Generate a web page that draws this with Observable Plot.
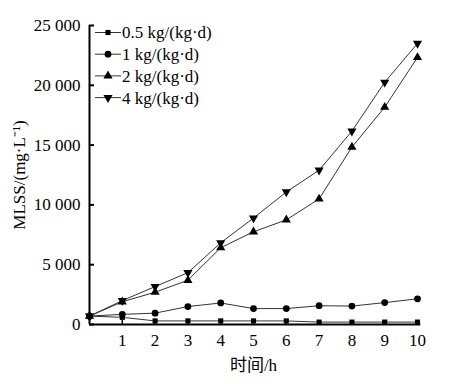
<!DOCTYPE html>
<html>
<head>
<meta charset="utf-8">
<script src="https://cdn.jsdelivr.net/npm/d3@7"></script>
<script src="https://cdn.jsdelivr.net/npm/@observablehq/plot@0.6"></script>
<style>
  html, body { margin: 0; padding: 0; background: #fff; }
  svg text { font-family: "Liberation Serif", "Noto Sans CJK SC", serif !important; }
</style>
</head>
<body>
<div id="chart"></div>
<script>
const hours = [0, 1, 2, 3, 4, 5, 6, 7, 8, 9, 10];
const seriesNames = ["0.5 kg/(kg·d)", "1 kg/(kg·d)", "2 kg/(kg·d)", "4 kg/(kg·d)"];
const s05 = [700, 600, 300, 300, 300, 300, 300, 200, 200, 200, 200];
const s1 = [700, 850, 950, 1500, 1800, 1330, 1330, 1570, 1540, 1830, 2150];
const s2 = [700, 1900, 2700, 3700, 6420, 7750, 8750, 10500, 14830, 18170, 22330];
const s4 = [700, 2000, 3170, 4330, 6830, 8900, 11080, 12900, 16170, 20250, 23500];
const yTicks = [0, 5000, 10000, 15000, 20000, 25000];
const xTicks = [1, 2, 3, 4, 5, 6, 7, 8, 9, 10];

const allSeries = [s05, s1, s2, s4];
const symbols = ["square", "circle", "triangle", "triangle"];
const rotations = [0, 0, 0, 180];
const sizes = [2.9, 3.4, 3.4, 3.4];

const data = allSeries.flatMap((vals, si) =>
  vals.map((v, i) => ({ series: seriesNames[si], hour: hours[i], mlss: v }))
);

const fmt = d => d3.format(",")(d).replace(/,/g, " ");
const font = "Liberation Serif, Noto Sans CJK SC, serif";

const dotMarks = seriesNames.map((name, si) =>
  Plot.dot(data.filter(d => d.series === name), {
    x: "hour", y: "mlss", symbol: symbols[si], r: sizes[si],
    rotate: rotations[si], fill: "#000", stroke: "none"
  })
);

const svg = Plot.plot({
  width: 472,
  height: 384,
  marginLeft: 89,
  marginRight: 55,
  marginTop: 25,
  marginBottom: 60,
  style: { fontFamily: font, fontSize: "17px", color: "#000", background: "#fff" },
  x: { domain: [0, 10] },
  y: { domain: [0, 25000] },
  marks: [
    Plot.axisY(yTicks, {
      tickSize: -5, tickPadding: 14, tickFormat: fmt, strokeWidth: 2,
      label: "MLSS/(mg·L⁻¹)", labelAnchor: "center", labelArrow: "none", labelOffset: 77,
      fontSize: 17, fontFamily: font
    }),
    Plot.axisX(xTicks, {
      tickSize: -4, tickPadding: 13, strokeWidth: 1.5,
      label: "时间/h", labelAnchor: "center", labelArrow: "none", labelOffset: 46,
      fontSize: 17, fontFamily: font
    }),
    Plot.ruleX([0], { stroke: "#000", strokeWidth: 2 }),
    Plot.ruleY([0], { stroke: "#000", strokeWidth: 2, x1: 0, x2: 10.1 }),
    Plot.line(data, { x: "hour", y: "mlss", z: "series", stroke: "#333", strokeWidth: 1 }),
    ...dotMarks
  ]
});

// Legend inside the plot area (top-left)
const g = d3.select(svg).append("g").attr("class", "legend")
  .attr("text-anchor", "start");
const lx0 = 95, lx1 = 121, ly0 = 32.5, lstep = 21.7;
seriesNames.forEach((name, si) => {
  const y = ly0 + si * lstep;
  g.append("line").attr("x1", lx0).attr("x2", lx1).attr("y1", y).attr("y2", y)
    .attr("stroke", "#333").attr("stroke-width", 1);
  const symType = symbols[si] === "square" ? d3.symbolSquare
    : symbols[si] === "circle" ? d3.symbolCircle : d3.symbolTriangle;
  g.append("path")
    .attr("d", d3.symbol(symType, Math.PI * sizes[si] * sizes[si])())
    .attr("transform", `translate(108,${y}) rotate(${rotations[si]})`)
    .attr("fill", "#000");
  g.append("text").attr("x", 122).attr("y", y).attr("dy", "0.35em")
    .attr("text-anchor", "start")
    .attr("font-size", 17).attr("fill", "#000")
    .text(name);
});

d3.select(svg).selectAll("text").style("font-family", font);

document.getElementById("chart").appendChild(svg);
</script>
</body>
</html>
